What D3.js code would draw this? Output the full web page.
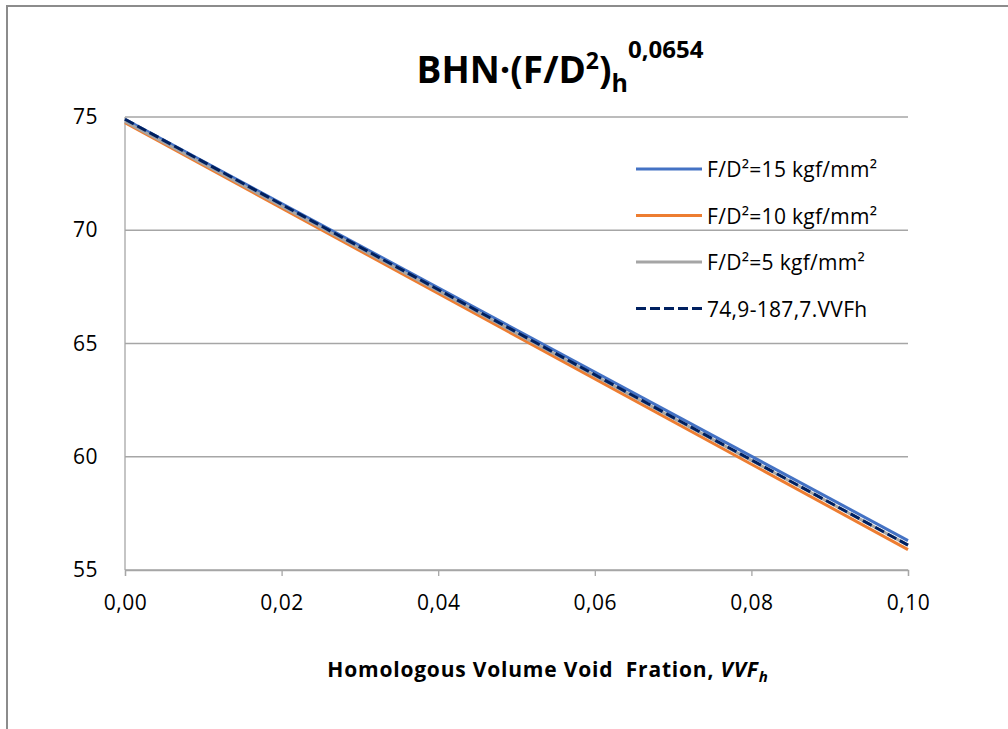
<!DOCTYPE html>
<html>
<head>
<meta charset="utf-8">
<script src="https://cdn.jsdelivr.net/npm/d3@7"></script>
<style>
body { margin: 0; background: #fff; }
svg { font-family: "Open Sans", sans-serif; }
</style>
</head>
<body>
<div id="chart"></div>
<script>
// values
var vvf = [0.00, 0.10];
var bhn15 = [74.9, 56.3];
var bhn10 = [74.75, 55.9];
var bhn5 = [74.8, 56.1];
var fitLine = [74.9, 56.1];
var seriesNames = ['F/D\u00b2=15 kgf/mm\u00b2', 'F/D\u00b2=10 kgf/mm\u00b2', 'F/D\u00b2=5 kgf/mm\u00b2', '74,9-187,7.VVFh'];
var seriesColors = ['#4472c4', '#ed7d31', '#a5a5a5', '#002060'];
var xTicks = [0, 0.02, 0.04, 0.06, 0.08, 0.10];
var yTicks = [55, 60, 65, 70, 75];

var width = 1008, height = 729;
var plot = {left: 125, right: 908, top: 117, bottom: 570};

var svg = d3.select('#chart').append('svg')
    .attr('width', width)
    .attr('height', height);

// chart frame (only left and top visible)
svg.append('path')
    .attr('d', 'M7,' + height + 'V6H' + width)
    .attr('fill', 'none')
    .attr('stroke', '#8c8c8c')
    .attr('stroke-width', 2);

var x = d3.scaleLinear().domain([0, 0.1]).range([plot.left, plot.right]);
var y = d3.scaleLinear().domain([55, 75]).range([plot.bottom, plot.top]);

// gridlines
svg.append('g')
    .selectAll('line')
    .data(yTicks)
    .enter().append('line')
        .attr('x1', plot.left)
        .attr('x2', plot.right)
        .attr('y1', function(d) { return y(d); })
        .attr('y2', function(d) { return y(d); })
        .attr('stroke', '#a6a6a6')
        .attr('stroke-width', 1.3);

// y axis line
svg.append('line')
    .attr('x1', plot.left).attr('x2', plot.left)
    .attr('y1', plot.top).attr('y2', plot.bottom)
    .attr('stroke', '#a6a6a6')
    .attr('stroke-width', 1.3);

// x axis
var xAxis = svg.append('g')
    .attr('transform', 'translate(0,' + plot.bottom + ')')
    .call(d3.axisBottom(x).tickValues(xTicks).tickSize(6).tickPadding(19)
        .tickFormat(function(d) { return d3.format('.2f')(d).replace('.', ','); }));
xAxis.select('.domain').attr('stroke', '#a6a6a6').attr('stroke-width', 1.3);
xAxis.selectAll('.tick line').attr('stroke', '#a6a6a6').attr('stroke-width', 1.3);
xAxis.selectAll('.tick text')
    .attr('fill', '#000')
    .style('font-size', '21px')
    .style('letter-spacing', '0.5px')
    .style('font-family', '"Open Sans", sans-serif');

// y axis labels
var yAxis = svg.append('g')
    .attr('transform', 'translate(' + plot.left + ',0)')
    .call(d3.axisLeft(y).tickValues(yTicks).tickSize(0).tickPadding(27));
yAxis.select('.domain').remove();
yAxis.selectAll('.tick text')
    .attr('fill', '#000')
    .style('font-size', '21px')
    .style('letter-spacing', '0.5px')
    .style('font-family', '"Open Sans", sans-serif');

// lines
var line = d3.line()
    .x(function(d, i) { return x(vvf[i]); })
    .y(function(d) { return y(d); });

var allSeries = [bhn15, bhn10, bhn5, fitLine];
// draw order: orange, blue, gray, dashed on top
[1, 0, 2, 3].forEach(function(i) {
    svg.append('path')
        .datum(allSeries[i])
        .attr('d', line)
        .attr('fill', 'none')
        .attr('stroke', seriesColors[i])
        .attr('stroke-width', 3)
        .attr('stroke-dasharray', i == 3 ? '10,4' : null);
});

// legend
var legend = svg.append('g');
seriesNames.forEach(function(name, i) {
    var ly = 169 + i * 46.5;
    legend.append('line')
        .attr('x1', 636).attr('x2', 702)
        .attr('y1', ly).attr('y2', ly)
        .attr('stroke', seriesColors[i])
        .attr('stroke-width', 3)
        .attr('stroke-dasharray', i == 3 ? '10,4' : null);
    legend.append('text')
        .attr('x', 707)
        .attr('y', ly + 8)
        .style('font-size', '21px')
        .style('letter-spacing', '0.3px')
        .text(name);
});

// title
var title = svg.append('text')
    .attr('x', 560)
    .attr('y', 83)
    .attr('text-anchor', 'middle')
    .style('font-size', '37px')
    .style('font-weight', 'bold');
title.append('tspan').text('BHN\u00b7(F/D');
title.append('tspan').text('2').style('font-size', '23px').attr('dy', -14);
title.append('tspan').text(')').attr('dy', 14);
title.append('tspan').text('h').style('font-size', '25px').attr('dy', 9);
title.append('tspan').text('0,0654').style('font-size', '24px').attr('dy', -34);

// x axis title
var xt = svg.append('text')
    .attr('x', 548)
    .attr('y', 677)
    .attr('text-anchor', 'middle')
    .style('font-size', '21px')
    .style('font-weight', 'bold')
    .style('letter-spacing', '0.8px')
    .attr('xml:space', 'preserve');
xt.append('tspan').text('Homologous Volume Void  Fration, ');
xt.append('tspan').text('VVF').style('font-style', 'italic');
xt.append('tspan').text('h').style('font-style', 'italic').style('font-size', '15px').attr('dy', 5);
</script>
</body>
</html>
